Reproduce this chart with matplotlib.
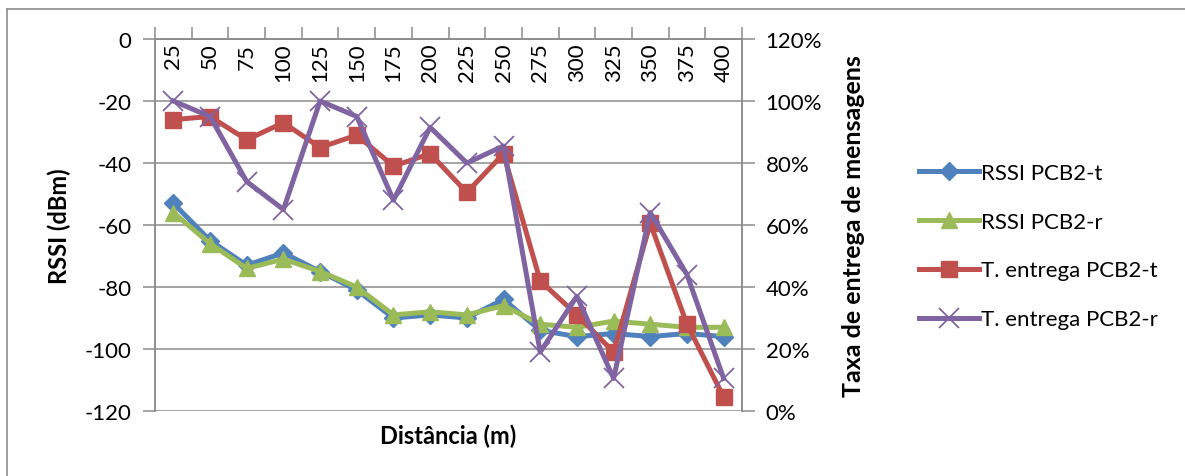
import matplotlib.pyplot as plt
from matplotlib.lines import Line2D
import numpy as np

plt.rcParams['font.family'] = ['Lato', 'DejaVu Sans']
plt.rcParams['axes.unicode_minus'] = False

# distances (m)
distancia = [25, 50, 75, 100, 125, 150, 175, 200, 225, 250, 275, 300, 325, 350, 375, 400]

# RSSI (dBm)
rssi_t = [-53, -65, -73, -69, -75, -81, -90, -89, -90, -84, -94, -96, -95, -96, -95, -96]
rssi_r = [-56, -66, -74, -71, -75, -80, -89, -88, -89, -86, -92, -93, -91, -92, -93, -93]

# delivery rate (%)
entrega_t = [94, 95, 87.5, 93, 85, 89, 79, 83, 70.5, 83, 42, 31, 19, 60.5, 28, 4.5]
entrega_r = [100, 95, 74, 65, 100, 95, 68, 91.5, 80, 85.5, 19, 37, 10.5, 64, 44, 10.5]

c_blue = '#4F81BD'
c_green = '#9BBB59'
c_red = '#C0504D'
c_purple = '#8064A2'
c_axis = '#8C8C8C'

fig = plt.figure(figsize=(11.85, 4.77), dpi=100)
ax = fig.add_axes([155 / 1185, 1 - 412 / 477, 587 / 1185, 372 / 477])
ax2 = ax.twinx()

x = np.arange(len(distancia))

l1, = ax.plot(x, rssi_t, color=c_blue, lw=3.6, marker='D', ms=9,
              label='RSSI PCB2-t', zorder=3)
l2, = ax.plot(x, rssi_r, color=c_green, lw=3.6, marker='^', ms=12,
              label='RSSI PCB2-r', zorder=4)
l3, = ax2.plot(x, entrega_t, color=c_red, lw=3.6, marker='s', ms=11,
               label='T. entrega PCB2-t', zorder=3)
l4, = ax2.plot(x, entrega_r, color=c_purple, lw=3.6, marker='x', ms=15,
               mew=1.3, label='T. entrega PCB2-r', zorder=4)

ax.set_xlim(-0.5, len(distancia) - 0.5)
ax.set_ylim(-120, 0)
ax.set_yticks(np.arange(-120, 1, 20))
ax2.set_ylim(0, 120)
ax2.set_yticks(np.arange(0, 121, 20))
ax2.set_yticklabels([f'{v}%' for v in range(0, 121, 20)])

# horizontal gridlines only
ax.yaxis.grid(True, color=c_axis, lw=1.1)
ax.set_axisbelow(True)

# category axis along the top (value 0), labels sit inside below the line
ax.xaxis.tick_top()
ax.set_xticks(np.arange(-0.5, len(distancia), 1))
ax.set_xticklabels([])
ax.tick_params(axis='x', direction='out', length=9, color=c_axis, width=1.1)
for i, d in enumerate(distancia):
    ax.text(i, -1.2, str(d), rotation=90, ha='center', va='top',
            fontsize=16, color='black')

ax.tick_params(axis='y', direction='out', length=9, color=c_axis, width=1.1,
               labelsize=16, pad=8)
ax2.tick_params(axis='y', direction='out', length=9, color=c_axis, width=1.1,
                labelsize=16, pad=8)

for a in (ax, ax2):
    for s in a.spines.values():
        s.set_color(c_axis)
        s.set_linewidth(1.1)
ax2.spines['bottom'].set_visible(False)
ax.spines['bottom'].set_visible(False)

ax.set_ylabel('RSSI (dBm)', fontsize=17, fontweight='bold', labelpad=10)
ax2.set_ylabel('Taxa de entrega de mensagens', fontsize=18, fontweight='bold',
               labelpad=14)
fig.text(448 / 1185, 1 - 436 / 477, 'Distância (m)', fontsize=17,
         fontweight='bold', ha='center', va='center')

leg = fig.legend(handles=[l1, l2, l3, l4], loc='center left',
                 bbox_to_anchor=(910 / 1185, 1 - 247 / 477), frameon=False,
                 fontsize=16, handlelength=2.7, handletextpad=0.1,
                 labelspacing=1.3, borderaxespad=0)

# chart frame (top and left edge)
fig.add_artist(Line2D([7 / 1185, 7 / 1185], [0, 1 - 10 / 477],
                      color=c_axis, lw=1.2, transform=fig.transFigure))
fig.add_artist(Line2D([7 / 1185, 1], [1 - 10 / 477, 1 - 10 / 477],
                      color=c_axis, lw=1.2, transform=fig.transFigure))

fig.savefig('out.png', dpi=100)
